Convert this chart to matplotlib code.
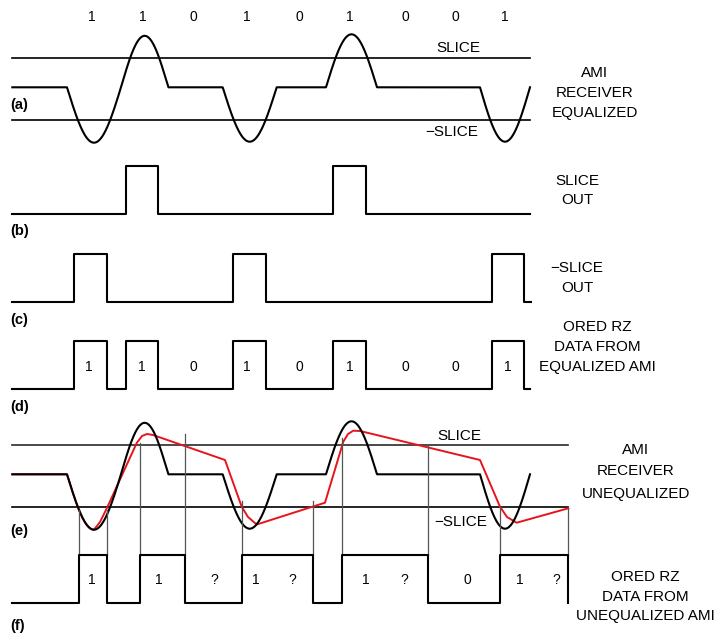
import numpy as np
import matplotlib
matplotlib.use('Agg')
import matplotlib.pyplot as plt

plt.rcParams['font.family'] = ['Liberation Sans', 'DejaVu Sans']

# bit stream
bit_labels = ['1', '1', '0', '1', '0', '1', '0', '0', '1']
bit_t = [92, 143, 193, 247, 299, 350, 405, 455, 505]
dbit_t = [89, 142, 193, 247, 299, 350, 405, 455, 508]

# equalized AMI pulses (start, end, signed amplitude)
ami_start = [67, 121, 222.7, 326, 480]
ami_end = [121, 168.3, 276.7, 377, 530]
ami_amp = [-55.4, 51.5, -54.4, 53, -54.4]
slice_hi = 29.5
slice_lo = -33.0

# slicer outputs (pulse edges)
slice_out = [(125.7, 158.3), (333.3, 366)]
nslice_out = [(74, 107.3), (232.7, 265.7), (491.7, 524)]

# unequalized AMI (red), after the first minimum
red_t = [94, 100, 106.7, 136.7, 142, 147, 153, 225, 241.7, 248, 256.7,
         325, 343.3, 348, 353.3, 360, 480, 500, 507, 516.7, 568.3]
red_v = [-55.4, -47.7, -34.2, 31.3, 38.3, 40.3, 39.3, 14.3, -32.4, -42.7, -50.2,
         -28.4, 32.6, 40.3, 43.6, 43.3, 14.3, -32.4, -42.7, -48.4, -34.0]

# decision instants for unequalized data
mark_t = [79, 106.7, 140, 185, 241.7, 313.3, 341.7, 428.3, 500, 568.3]
mark_v = [-35.7, -35.7, 31.3, 40.3, -26.4, -26.4, 36.3, 29.3, -32.4, -33.7]
uneq_out = [(79, 106.7), (140, 185), (241.7, 313.3), (341.7, 428.3), (500, 568.3)]
f_labels = ['1', '1', '?', '1', '?', '1', '?', '0', '1', '?']
f_t = [92, 159, 214, 256, 292, 366, 404, 467, 520, 556]

pulse_h = 48
base = {'a': 87.3, 'b': 214, 'c': 301.7, 'd': 389, 'e': 474.3, 'f': 602.7}


def ami_wave(t):
    v = np.zeros_like(t)
    for s, e, a in zip(ami_start, ami_end, ami_amp):
        m = (t >= s) & (t <= e)
        v[m] += a * np.sin(np.pi * (t[m] - s) / (e - s))
    return v


def steps(pulses, t0, t1):
    xs, ys = [t0], [0]
    for s, e in pulses:
        xs += [s, s, e, e]
        ys += [0, pulse_h, pulse_h, 0]
    xs.append(t1)
    ys.append(0)
    return np.array(xs), np.array(ys)


fig = plt.figure(figsize=(7.28, 6.35), dpi=100)
ax = fig.add_axes([0, 0, 1, 1])
ax.set_xlim(0, 728)
ax.set_ylim(635, 0)
ax.axis('off')

lw = 1.5
tt = np.linspace(12.3, 530, 2000)

# (a)
ax.plot([12.3, 530], [base['a'] - slice_hi] * 2, color='black', lw=1.2)
ax.plot([12.3, 530], [base['a'] - slice_lo] * 2, color='black', lw=1.2)
ax.plot(tt, base['a'] - ami_wave(tt), color='black', lw=lw)

# (b), (c), (d)
x, y = steps(slice_out, 12.3, 530)
ax.plot(x, base['b'] - y, color='black', lw=lw)
x, y = steps(nslice_out, 12.3, 530.7)
ax.plot(x, base['c'] - y, color='black', lw=lw)
x, y = steps(sorted(slice_out + nslice_out), 12.3, 530)
ax.plot(x, base['d'] - y, color='black', lw=lw)

# (e)
ax.plot([12.3, 568.3], [base['e'] - slice_hi] * 2, color='#2a2a2a', lw=1.2)
ax.plot([12.3, 568.3], [base['e'] - slice_lo] * 2, color='black', lw=1.2)
t_pre = tt[tt < red_t[0]]
rx = np.concatenate([t_pre, red_t])
ry = np.concatenate([ami_wave(t_pre), red_v])
ax.plot(rx, base['e'] - ry, color='#e8141c', lw=1.4)
ax.plot(tt, base['e'] - ami_wave(tt), color='black', lw=lw)

# (f)
for t, v in zip(mark_t, mark_v):
    ax.plot([t, t], [base['e'] - v, base['f'] - pulse_h], color='#555555', lw=0.9)
x, y = steps(uneq_out, 12.3, 568.3)
ax.plot(x, base['f'] - y, color='black', lw=lw)

# texts
for lab, t in zip(bit_labels, bit_t):
    ax.text(t, 17, lab, ha='center', va='center', fontsize=10)
for lab, t in zip(bit_labels, dbit_t):
    ax.text(t, 367, lab, ha='center', va='center', fontsize=10)
for lab, t in zip(f_labels, f_t):
    ax.text(t, 580, lab, ha='center', va='center', fontsize=10)

ax.text(458, 47.5, 'SLICE', ha='center', va='center', fontsize=11)
ax.text(452, 132.5, '\u2212SLICE', ha='center', va='center', fontsize=11)
ax.text(459, 436, 'SLICE', ha='center', va='center', fontsize=11)
ax.text(461, 521.5, '\u2212SLICE', ha='center', va='center', fontsize=11)

right = [
    (595, [73, 93, 113], ['AMI', 'RECEIVER', 'EQUALIZED']),
    (577, [181, 200], ['SLICE', 'OUT']),
    (577, [268, 288], ['\u2212SLICE', 'OUT']),
    (597, [327, 347, 367], ['ORED RZ', 'DATA FROM', 'EQUALIZED AMI']),
    (636, [450, 471, 494], ['AMI', 'RECEIVER', 'UNEQUALIZED']),
    (645, [577, 597, 616], ['ORED RZ', 'DATA FROM', 'UNEQUALIZED AMI']),
]
for cx, ys, lines in right:
    for yy, s in zip(ys, lines):
        ax.text(cx, yy, s, ha='center', va='center', fontsize=11)

panels = [('(a)', 105), ('(b)', 231), ('(c)', 320), ('(d)', 407), ('(e)', 531), ('(f)', 626)]
for s, yy in panels:
    ax.text(10, yy, s, ha='left', va='center', fontsize=10.5, fontweight='bold')

fig.savefig('out.png', dpi=100)
